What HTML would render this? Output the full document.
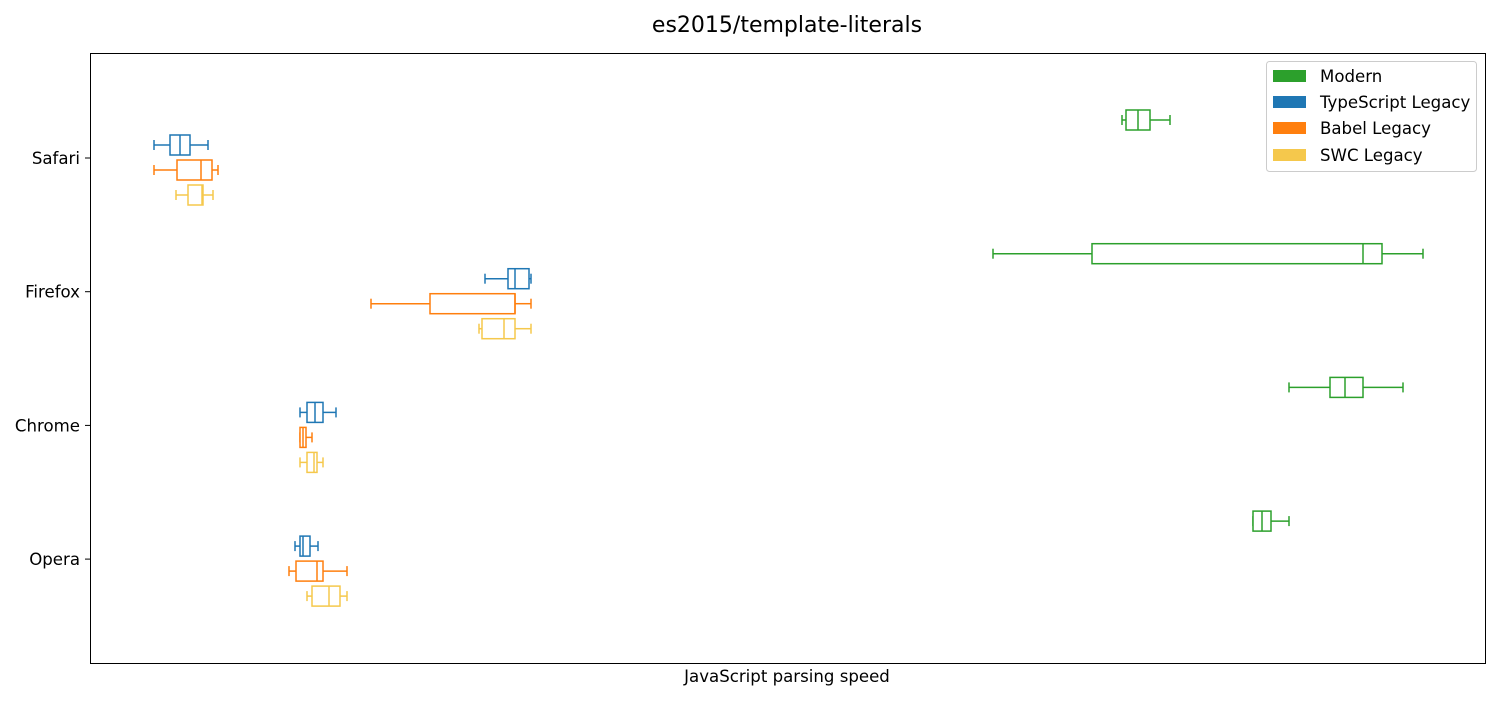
<!DOCTYPE html>
<html><head><meta charset="utf-8"><style>
body{margin:0;background:#fff;}
svg text{font-family:"DejaVu Sans","Liberation Sans",sans-serif;}
</style></head><body>
<svg id="chart" width="1500" height="700" xmlns="http://www.w3.org/2000/svg">
<rect x="0" y="0" width="1500" height="700" fill="#fff"/>
<text x="787" y="32" font-size="22" text-anchor="middle">es2015/template-literals</text>
<rect x="90.5" y="53.5" width="1395" height="610" fill="none" stroke="#000" stroke-width="1"/>
<text x="787" y="682" font-size="16.6" text-anchor="middle">JavaScript parsing speed</text>
<g id="boxes"></g>
<g id="yticks"></g>
<g>
<rect x="1266.5" y="61.5" width="210" height="110" rx="3" fill="#fff" stroke="#ccc"/>
<rect x="1273" y="70" width="33" height="12" fill="#2ca02c"/>
<text x="1320" y="82" font-size="16.6">Modern</text>
<rect x="1273" y="96" width="33" height="12" fill="#1f77b4"/>
<text x="1320" y="108" font-size="16.6">TypeScript Legacy</text>
<rect x="1273" y="122" width="33" height="12" fill="#ff7f0e"/>
<text x="1320" y="134" font-size="16.6">Babel Legacy</text>
<rect x="1273" y="149" width="33" height="12" fill="#f5c84c"/>
<text x="1320" y="161" font-size="16.6">SWC Legacy</text>
</g>
</svg>
<script>
const categories = ["Safari","Firefox","Chrome","Opera"];
const seriesNames = ["Modern","TypeScript Legacy","Babel Legacy","SWC Legacy"];
const seriesColors = ["#2ca02c","#1f77b4","#ff7f0e","#f5c84c"];
// each: [whiskerLow, q1, median, q3, whiskerHigh] per category
const modern = [[1032,1036,1048,1060,1080],[903,1002,1273,1292,1333],[1199,1240,1255,1273,1313],[1163,1163,1172,1181,1199]];
const typescript = [[64,80,90,100,118],[395,418,425,439,441],[210,217,225,233,246],[205,210,213,220,228]];
const babel = [[64,87,111,122,128],[281,340,425,425,441],[210,210,213,216,222],[199,206,227,233,257]];
const swc = [[86,98,112,113,123],[389,392,414,425,441],[210,217,224,227,233],[217,222,239,250,257]];
const allSeries = [modern, typescript, babel, swc];
const xDomain = [0,1395];
const NS = "http://www.w3.org/2000/svg";
function xs(v){return 90 + (v - xDomain[0]) / (xDomain[1]-xDomain[0]) * 1395;}
function yc(i){return 158 + i * 133.7;}
const offsets = [-38,-13,12,37];
const g = document.getElementById('boxes');
function mk(tag, attrs){const e=document.createElementNS(NS,tag);for(const k in attrs)e.setAttribute(k,attrs[k]);return e;}
allSeries.forEach((ser, si) => {
  ser.forEach((d, ci) => {
    const y = yc(ci) + offsets[si];
    const c = seriesColors[si];
    const grp = mk('g',{stroke:c,'stroke-width':1.5,fill:'none'});
    
    
    grp.appendChild(mk('line',{x1:xs(d[0]),x2:xs(d[1]),y1:y,y2:y}));
    grp.appendChild(mk('line',{x1:xs(d[3]),x2:xs(d[4]),y1:y,y2:y}));
    grp.appendChild(mk('line',{x1:xs(d[0]),x2:xs(d[0]),y1:y-5,y2:y+5}));
    grp.appendChild(mk('line',{x1:xs(d[4]),x2:xs(d[4]),y1:y-5,y2:y+5}));
    grp.appendChild(mk('rect',{x:xs(d[1]),y:y-10,width:Math.max(0.5,xs(d[3])-xs(d[1])),height:20,fill:'#fff'}));
    grp.appendChild(mk('line',{x1:xs(d[2]),x2:xs(d[2]),y1:y-10,y2:y+10}));
    g.appendChild(grp);
  });
});
const yt = document.getElementById('yticks');
categories.forEach((c, i) => {
  const y = yc(i);
  const t = mk('line',{x1:85,x2:90,y1:y,y2:y,stroke:'#000'});
  
  
  yt.appendChild(t);
  const tx = mk('text',{x:80,y:y+6,'font-size':16.6,'text-anchor':'end'});
  tx.textContent = c;
  
  
  yt.appendChild(tx);
});
</script>
</body></html>
